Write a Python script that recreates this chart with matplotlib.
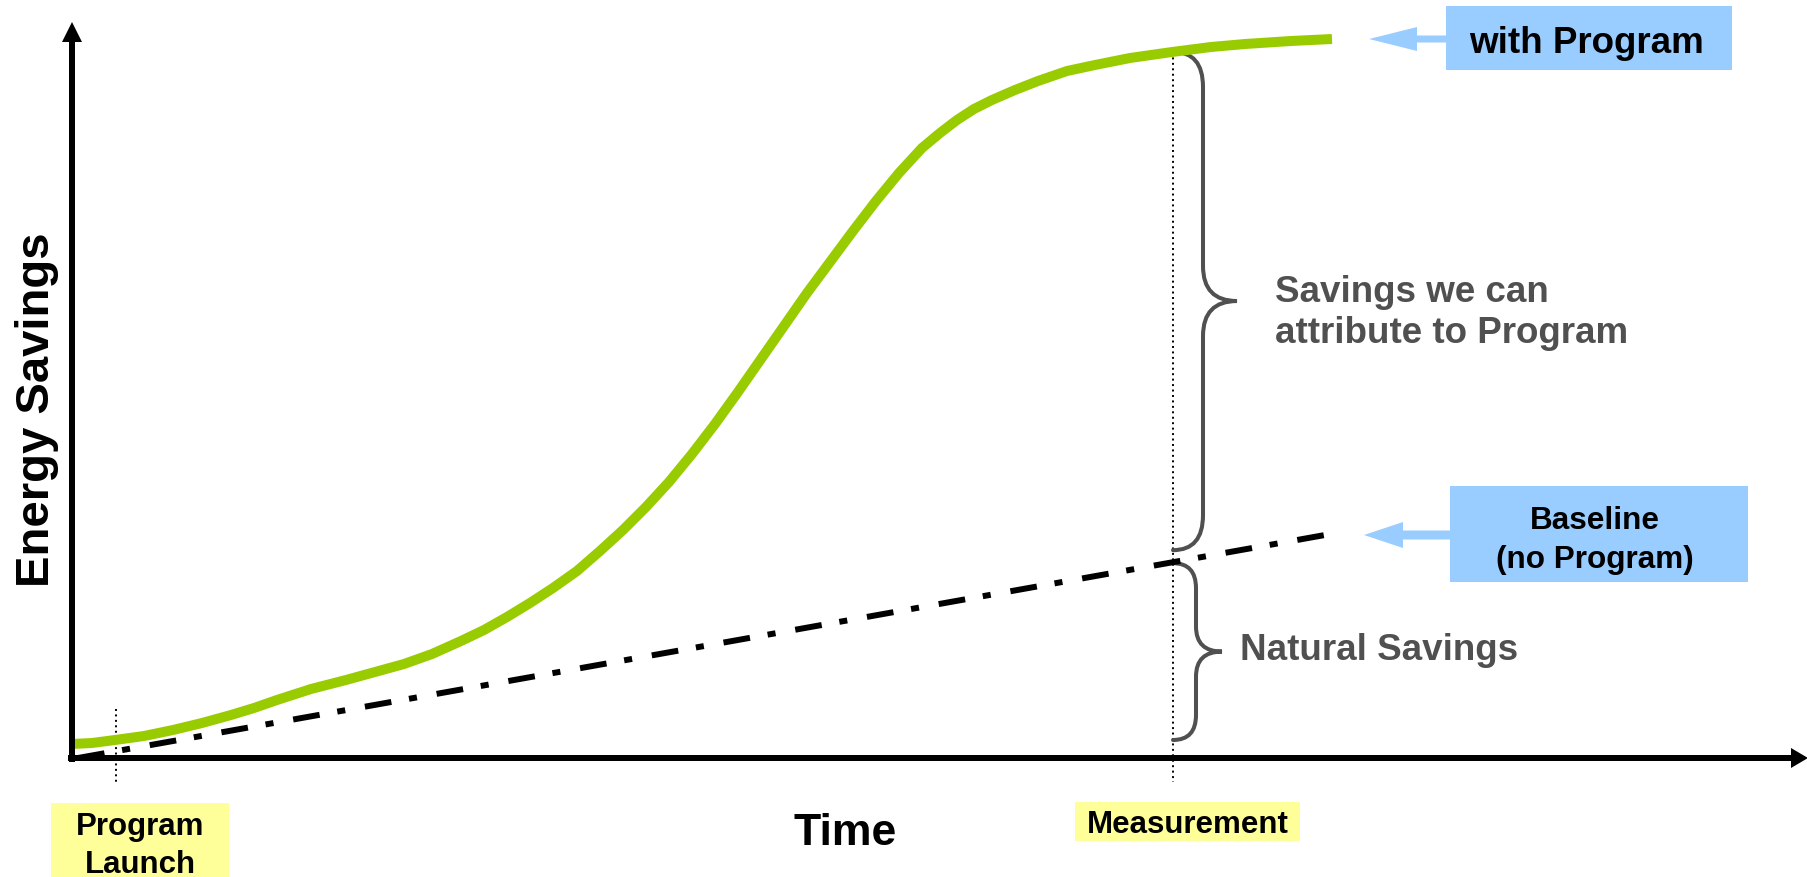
import matplotlib

matplotlib.use("Agg")
import matplotlib.pyplot as plt
import numpy as np
from matplotlib.patches import Rectangle, PathPatch
from matplotlib.path import Path

# Chart data (arbitrary units: time on x, energy savings on y)
program_t = [0.0, 2.0, 4.3, 7.2, 10.1, 13.0, 15.9, 18.2, 20.5, 23.9, 27.4,
             30.3, 33.2, 36.0, 38.9, 41.2, 43.5, 45.8, 48.1, 50.5, 52.8,
             55.1, 57.4, 59.7, 62.0, 64.3, 66.6, 68.9, 71.2, 73.5, 75.8,
             78.1, 80.4, 82.7, 85.0, 86.8, 88.5, 90.2, 92.0, 94.3, 96.6,
             99.5, 102.3, 105.8, 110.0, 113.9, 117.3, 121.9, 126.0]
program_s = [1.4, 1.5, 1.8, 2.2, 2.8, 3.5, 4.3, 5.0, 5.8, 6.9, 7.8,
             8.6, 9.4, 10.4, 11.7, 12.8, 14.1, 15.5, 17.0, 18.7, 20.7,
             22.8, 25.1, 27.6, 30.4, 33.4, 36.6, 39.9, 43.2, 46.5, 49.6,
             52.7, 55.7, 58.5, 61.0, 62.5, 63.8, 64.9, 65.8, 66.8, 67.7,
             68.7, 69.3, 70.0, 70.6, 71.1, 71.4, 71.7, 71.9]
baseline_t = [0.6, 125.3]
baseline_s = [0.0, 22.3]
launch_t = 4.4
measure_t = 110.1

GREEN = "#99cc00"
BLUE = "#99ccff"
YELLOW = "#ffff99"
GRAY = "#505050"

plt.rcParams["font.family"] = ["Liberation Sans", "DejaVu Sans"]
plt.rcParams["font.weight"] = "bold"

fig = plt.figure(figsize=(18.08, 8.77), dpi=100)
ax = fig.add_axes([0, 0, 1, 1])
ax.set_xlim(-7.2, 173.6)
ax.set_ylim(-11.9, 75.8)
ax.axis("off")

# axes with arrow heads
ax.arrow(-0.4, 0, 174.0, 0, width=0.6, head_width=2.0, head_length=1.7,
         length_includes_head=True, color="black", lw=0, zorder=5)
ax.arrow(0, -0.4, 0, 74.0, width=0.6, head_width=2.0, head_length=2.0,
         length_includes_head=True, color="black", lw=0, zorder=5)

# series
ax.plot(baseline_t, baseline_s, color="black", lw=4.3,
        linestyle=(0, (4.5, 3.0, 1.35, 3.35)), dash_capstyle="butt", zorder=3)
ax.plot(program_t, program_s, color=GREEN, lw=7.2, solid_capstyle="butt",
        solid_joinstyle="round", zorder=4)

# dotted markers for launch and measurement
top_meas = np.interp(measure_t, program_t, program_s)
base_meas = np.interp(measure_t, baseline_t, baseline_s)
ax.plot([launch_t, launch_t], [4.9, -2.6], color="black", lw=1.4,
        linestyle=(0, (1, 1.8)), zorder=2)
ax.plot([measure_t, measure_t], [top_meas, -2.4], color="black", lw=1.4,
        linestyle=(0, (1, 1.8)), zorder=2)


def brace(x0, y_top, y_bot, depth, tip, r):
    mid = (y_top + y_bot) / 2
    xv = x0 + depth
    xt = x0 + tip
    verts = [(x0, y_top), (xv, y_top), (xv, y_top - r),
             (xv, mid + r), (xv, mid), (xt, mid),
             (xv, mid), (xv, mid - r),
             (xv, y_bot + r), (xv, y_bot), (x0, y_bot)]
    codes = [Path.MOVETO, Path.CURVE3, Path.CURVE3,
             Path.LINETO, Path.CURVE3, Path.CURVE3,
             Path.CURVE3, Path.CURVE3,
             Path.LINETO, Path.CURVE3, Path.CURVE3]
    ax.add_patch(PathPatch(Path(verts, codes), fill=False, edgecolor=GRAY,
                           lw=2.9, capstyle="round", zorder=2))


brace(measure_t, top_meas, base_meas + 1.2, 3.0, 6.4, 3.5)
brace(measure_t, base_meas - 0.1, 1.8, 2.3, 4.9, 2.5)

# multi-line texts: y is the baseline of the last line
ax.text(120.3, 41.5, "Savings we can\nattribute to Program", color=GRAY,
        fontsize=26.5, ha="left", va="baseline", linespacing=1.23)
ax.text(116.8, 9.8, "Natural Savings", color=GRAY, fontsize=26.5,
        ha="left", va="baseline")

# callout boxes with arrows
ax.add_patch(Rectangle((137.4, 68.8), 28.6, 6.4, facecolor=BLUE, lw=0, zorder=1))
ax.text(151.4, 70.5, "with Program", fontsize=26.5, ha="center", va="baseline")
ax.arrow(137.4, program_s[-1], -(137.4 - program_t[-1] - 3.7), 0, width=0.7,
         head_width=2.4, head_length=4.8, length_includes_head=True,
         color=BLUE, lw=0)

ax.add_patch(Rectangle((137.8, 17.6), 29.8, 9.6, facecolor=BLUE, lw=0, zorder=1))
ax.text(152.3, 19.0, "Baseline\n(no Program)", fontsize=22.7, ha="center",
        va="baseline", linespacing=1.38)
ax.arrow(137.8, baseline_s[-1], -(137.8 - baseline_t[-1] - 3.9), 0, width=0.9,
         head_width=2.6, head_length=3.9, length_includes_head=True,
         color=BLUE, lw=0)

# yellow time markers
ax.add_patch(Rectangle((-2.1, -11.9), 17.8, 7.4, facecolor=YELLOW, lw=0))
ax.text(6.8, -11.5, "Program\nLaunch", fontsize=22.5, ha="center",
        va="baseline", linespacing=1.34)
ax.add_patch(Rectangle((100.3, -8.3), 22.5, 3.9, facecolor=YELLOW, lw=0))
ax.text(111.55, -7.5, "Measurement", fontsize=22.5, ha="center", va="baseline")

# axis titles
ax.text(77.3, -8.7, "Time", fontsize=32, ha="center", va="baseline")
ax.text(-2.3, 34.8, "Energy Savings", fontsize=34, ha="center", va="baseline",
        rotation=90, rotation_mode="anchor")

fig.savefig("out.png", dpi=100)
